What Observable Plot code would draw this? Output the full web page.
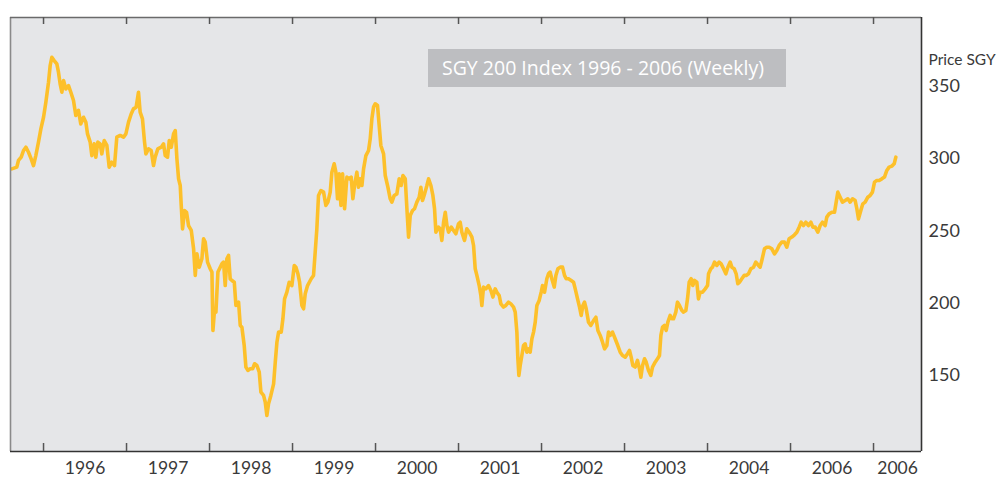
<!DOCTYPE html>
<html>
<head>
<meta charset="utf-8">
<script src="https://cdn.jsdelivr.net/npm/d3@7"></script>
<script src="https://cdn.jsdelivr.net/npm/@observablehq/plot@0.6"></script>
<style>
  html, body { margin: 0; padding: 0; background: #ffffff; }
  #chart { position: relative; width: 999px; height: 482px; }
</style>
</head>
<body>
<div id="chart"></div>
<script>
// Decimal-year of each reading (weekly series)
const years = [
1995.618,1995.678,1995.698,1995.731,1995.759,1995.787,1995.819,1995.851,1995.879,1995.907,1995.939,1995.968,
1996.000,1996.028,1996.060,1996.080,1996.100,1996.128,1996.160,1996.180,1996.200,1996.221,1996.241,1996.269,
1996.301,1996.329,1996.361,1996.389,1996.421,1996.449,1996.482,1996.510,1996.530,1996.562,1996.582,1996.610,
1996.630,1996.654,1996.682,1996.702,1996.731,1996.763,1996.791,1996.823,1996.855,1996.883,1996.923,1996.964,
1996.992,1997.024,1997.056,1997.084,1997.116,1997.144,1997.164,1997.192,1997.217,1997.233,1997.265,1997.297,
1997.325,1997.345,1997.377,
1997.418,1997.446,1997.466,1997.494,1997.515,1997.539,1997.567,1997.587,1997.607,1997.627,1997.647,1997.659,
1997.675,1997.699,1997.723,1997.747,1997.780,1997.808,1997.828,1997.848,1997.876,1997.908,1997.928,1997.948,
1997.976,1998.008,1998.029,1998.041,1998.061,1998.077,1998.101,1998.129,1998.149,1998.169,1998.189,1998.209,
1998.229,1998.249,1998.270,1998.298,1998.318,1998.350,1998.370,1998.390,1998.418,1998.438,1998.462,1998.490,
1998.519,1998.543,1998.571,1998.599,1998.619,1998.651,1998.671,1998.691,1998.711,1998.739,1998.772,1998.792,
1998.812,1998.832,1998.864,1998.884,1998.904,1998.932,1998.960,1998.992,1999.021,1999.041,1999.065,1999.085,
1999.113,1999.133,1999.153,1999.181,
1999.225,1999.253,1999.273,1999.293,1999.313,1999.342,1999.374,1999.402,1999.426,1999.454,1999.474,1999.502,
1999.522,1999.542,1999.562,1999.583,1999.603,1999.627,1999.655,1999.683,1999.707,1999.727,1999.747,1999.775,
1999.795,1999.815,1999.836,1999.856,1999.884,1999.916,1999.936,1999.956,1999.976,1999.996,2000.024,2000.044,
2000.064,2000.097,2000.117,2000.149,2000.177,2000.197,2000.225,2000.257,2000.285,2000.309,2000.330,2000.358,
2000.378,2000.398,2000.418,2000.446,2000.470,2000.498,2000.526,2000.546,2000.566,2000.591,2000.619,2000.639,
2000.667,2000.691,2000.711,2000.727,2000.759,2000.779,2000.799,2000.820,2000.840,2000.860,2000.880,2000.912,
2000.940,2000.968,2001.000,
2001.020,2001.040,2001.072,2001.100,2001.129,2001.161,2001.181,2001.201,2001.221,2001.249,2001.269,2001.281,
2001.301,2001.329,2001.361,2001.390,2001.414,2001.442,2001.462,2001.490,2001.510,2001.542,2001.570,2001.602,
2001.631,2001.663,2001.683,2001.703,2001.715,2001.727,2001.743,2001.763,2001.783,2001.803,2001.823,2001.843,
2001.863,2001.884,2001.904,2001.924,2001.944,2001.972,2001.996,2002.012,2002.036,2002.064,2002.084,2002.104,
2002.124,2002.153,2002.173,2002.197,2002.225,2002.253,2002.277,2002.297,2002.325,2002.357,2002.386,2002.406,
2002.434,2002.458,2002.478,2002.498,2002.518,2002.538,2002.566,2002.594,2002.627,2002.655,2002.679,2002.707,
2002.735,2002.759,2002.787,2002.807,
2002.827,2002.855,2002.887,2002.919,2002.948,2002.976,2003.008,2003.036,2003.060,2003.080,2003.100,2003.128,
2003.156,2003.180,2003.197,2003.217,2003.241,2003.261,2003.289,2003.317,2003.337,2003.369,2003.397,2003.421,
2003.438,2003.458,2003.482,2003.502,2003.522,2003.550,2003.570,2003.590,2003.618,2003.638,2003.662,2003.691,
2003.711,2003.739,2003.759,2003.779,2003.803,2003.823,2003.843,2003.871,2003.891,2003.911,2003.940,2003.972,
2004.000,2004.012,2004.040,2004.060,2004.084,2004.112,2004.140,2004.164,2004.193,2004.221,2004.245,2004.273,
2004.293,2004.321,2004.345,2004.365,2004.385,2004.413,2004.442,2004.466,2004.494,2004.522,2004.554,2004.582,
2004.614,
2004.634,2004.654,2004.686,2004.714,2004.743,2004.775,2004.807,2004.835,2004.863,2004.895,2004.927,2004.955,
2004.983,2005.016,2005.048,2005.076,2005.104,2005.128,2005.156,2005.184,2005.216,2005.245,2005.269,2005.297,
2005.329,2005.357,2005.385,2005.417,2005.437,2005.465,2005.498,2005.530,2005.550,2005.570,2005.598,2005.626,
2005.658,2005.690,2005.718,2005.747,2005.779,2005.799,2005.819,2005.847,2005.871,2005.899,2005.931,2005.959,
2005.987,2006.012,2006.040,2006.068,2006.100,2006.132,2006.160,2006.188,2006.220,2006.249,2006.269
];

// Index level (Price SGY) at each reading
const prices = [
292.9,294.1,298.7,301.0,305.6,307.9,304.4,299.8,295.2,302.1,311.4,320.6,
328.6,339.0,352.8,364.4,370.1,367.8,365.5,359.8,351.7,345.9,354.0,348.2,
350.5,345.9,340.2,329.8,333.3,324.0,328.6,325.2,317.1,311.4,302.1,310.2,
301.0,311.4,310.2,303.3,312.5,309.1,294.1,297.5,295.2,314.8,316.0,314.8,
317.1,325.2,330.9,334.4,335.6,345.9,332.1,327.5,311.4,303.3,306.7,305.6,
295.2,301.0,306.7,
307.9,310.2,302.1,301.0,312.5,307.9,317.1,319.4,299.8,286.0,281.4,267.6,
251.4,264.1,262.9,253.7,250.3,237.6,219.2,234.1,224.9,230.7,244.5,242.2,
228.4,223.8,221.5,181.1,196.1,193.8,221.5,224.9,227.2,228.4,212.2,230.7,
233.0,216.8,215.7,214.5,198.4,200.7,184.6,183.4,170.7,155.8,153.5,154.6,
154.6,158.1,156.9,152.3,138.5,136.2,131.6,122.3,130.4,136.2,144.2,159.2,
173.0,180.0,180.0,189.2,203.0,207.6,214.5,212.2,226.1,224.9,220.3,214.5,
198.4,196.1,206.5,212.2,
216.9,219.2,235.3,251.4,274.5,277.9,276.8,267.6,269.9,276.8,290.6,296.4,
290.6,272.2,289.5,267.6,289.5,265.3,287.2,286.0,287.2,272.2,281.4,290.6,
280.2,286.0,281.4,292.9,302.1,305.6,313.7,327.5,335.6,337.9,336.7,322.9,
309.1,303.3,288.3,280.2,272.2,269.9,274.5,275.6,286.0,281.4,288.3,286.0,
265.3,245.7,260.6,264.1,265.3,269.9,273.3,280.2,271.0,275.6,281.4,286.0,
281.4,274.5,265.3,249.1,252.6,251.4,243.4,256.0,262.9,253.7,249.1,252.6,
250.3,248.0,254.9,
256.0,249.1,243.4,251.4,249.1,245.7,239.9,223.8,219.2,212.2,205.3,198.4,
211.1,209.9,212.2,208.8,204.2,209.9,207.6,205.3,199.5,197.3,198.4,200.7,
199.5,197.3,193.8,180.0,161.5,150.0,156.9,163.8,170.7,171.9,166.1,168.4,
166.1,175.4,180.0,186.9,198.4,201.9,207.6,212.2,207.6,216.9,220.3,221.5,
216.9,211.1,219.2,223.8,224.9,224.9,219.2,216.9,216.9,215.7,214.5,209.9,
203.0,197.3,191.5,198.4,200.7,196.1,186.9,184.6,188.0,190.3,181.1,177.7,
173.0,168.4,170.7,180.0,
177.7,180.0,175.4,170.7,166.1,163.8,162.7,165.0,167.3,162.7,156.9,155.8,
160.4,154.6,148.8,156.9,161.5,159.2,153.5,150.0,155.8,159.2,161.5,163.8,
177.7,183.4,184.6,181.1,186.9,191.5,189.2,189.2,193.8,200.7,198.4,194.9,
193.8,194.9,203.0,214.5,216.9,212.2,215.7,214.5,203.0,207.6,207.6,209.9,
212.2,220.3,223.8,224.9,228.4,226.1,228.4,227.2,223.8,220.3,224.9,228.4,
224.9,223.8,220.3,213.4,214.5,216.9,219.2,219.2,220.3,223.8,224.9,228.4,
226.1,
224.9,229.5,237.6,238.7,238.7,237.6,234.1,236.4,239.9,242.2,242.2,238.7,
244.5,245.7,247.3,249.1,252.6,256.0,253.7,256.0,253.7,256.0,252.6,252.6,
249.1,253.7,256.0,253.7,259.5,261.8,262.9,262.9,269.9,276.8,273.3,269.9,
271.0,272.2,269.9,272.2,271.0,265.3,258.3,264.1,268.7,269.9,273.3,274.5,
276.8,283.7,284.9,284.9,286.0,287.2,291.8,294.1,294.8,296.4,301.0
];

// Axis content
const yearTicks = [1996, 1997, 1998, 1999, 2000, 2001, 2002, 2003, 2004, 2005, 2006];
const xLabelPos = [1996.5, 1997.5, 1998.5, 1999.5, 2000.5, 2001.5, 2002.5, 2003.5, 2004.5, 2005.5, 2006.29];
const xLabels = ["1996", "1997", "1998", "1999", "2000", "2001", "2002", "2003", "2004", "2006", "2006"];
const yTicks = [150, 200, 250, 300, 350];
const yTitle = "Price SGY";
const chartTitle = "SGY 200 Index 1996 - 2006 (Weekly)";

const data = years.map((t, i) => ({t, p: prices[i]}));
const xDomain = [1995.602, 2006.578];
const yDomain = [97.4, 397.6];

const axisFont = "Lato, 'Open Sans', sans-serif";
const textColor = "#3a3a3a";

const chart = Plot.plot({
  width: 999,
  height: 482,
  marginLeft: 10,
  marginRight: 78,
  marginTop: 17,
  marginBottom: 31,
  x: {domain: xDomain, axis: null},
  y: {domain: yDomain, axis: null},
  style: {fontFamily: axisFont, background: "#ffffff", overflow: "visible"},
  marks: [
    Plot.frame({fill: "#e5e6e8", stroke: null}),
    Plot.line(data, {x: "t", y: "p", stroke: "#fdc02a", strokeWidth: 3.6, strokeLinejoin: "round", strokeLinecap: "round"}),
    // frame edges
    Plot.ruleX([xDomain[0]], {stroke: "#8a8a8a", strokeWidth: 1.6}),
    Plot.ruleY([yDomain[1]], {stroke: "#6a6a6a", strokeWidth: 1.4}),
    Plot.ruleX([xDomain[1]], {stroke: "#333333", strokeWidth: 1.6}),
    Plot.ruleY([yDomain[0]], {stroke: "#333333", strokeWidth: 1.6}),
    // inward year ticks, top and bottom
    Plot.ruleX(yearTicks, {stroke: "#555555", strokeWidth: 1.5, insetBottom: 427}),
    Plot.ruleX(yearTicks, {stroke: "#555555", strokeWidth: 1.5, insetTop: 426}),
    // x labels between ticks
    Plot.text(xLabelPos, {x: d => d, text: (d, i) => xLabels[i], frameAnchor: "bottom", dy: 22,
      fontSize: 17.5, fill: textColor, textAnchor: "middle"}),
    // y axis on right
    Plot.axisY(yTicks, {anchor: "right", label: null, tickSize: 0, tickPadding: 7, fontSize: 18, fill: textColor, textAnchor: "start"}),
    Plot.text([yTitle], {frameAnchor: "top-right", dx: 7, dy: 36, textAnchor: "start", fontSize: 15.5, fill: textColor})
  ]
});

// Title box inside the plot area
const svg = d3.select(chart);
const g = svg.append("g");
g.append("rect")
  .attr("x", 428).attr("y", 49).attr("width", 358).attr("height", 38)
  .attr("fill", "#bdbec1");
g.append("text")
  .attr("x", 442).attr("y", 75)
  .attr("fill", "#ffffff")
  .attr("text-anchor", "start")
  .attr("font-family", "'Open Sans', sans-serif")
  .attr("font-size", 19.5)
  .text(chartTitle);

document.getElementById("chart").append(chart);
</script>
</body>
</html>
